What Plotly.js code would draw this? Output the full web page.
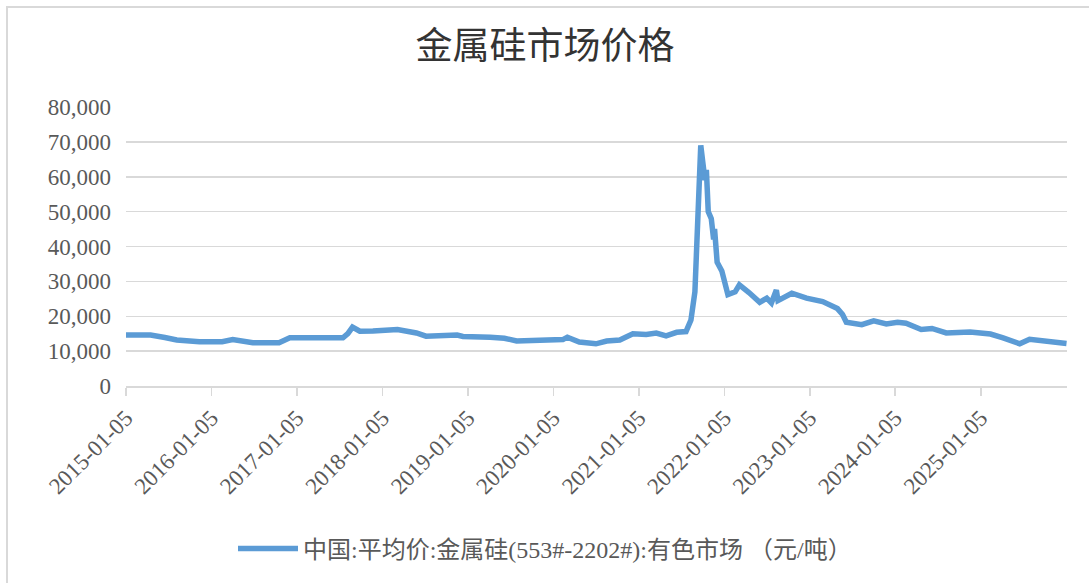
<!DOCTYPE html>
<html>
<head>
<meta charset="utf-8">
<script src="https://cdn.plot.ly/plotly-3.0.1.min.js"></script>
<style>
  html, body { margin: 0; padding: 0; background: #ffffff; }
  #wrap { position: relative; width: 1089px; height: 583px; overflow: hidden; }
  #chart { position: absolute; left: 0; top: 0; width: 1089px; height: 583px; }
  #frame { position: absolute; left: 6px; top: 6px; width: 1200px; height: 700px;
           border-left: 2px solid #d9d9d9; border-top: 2px solid #d9d9d9; pointer-events: none; }
</style>
</head>
<body>
<div id="wrap">
  <div id="chart"></div>
  <div id="frame"></div>
</div>
<script>
// ---- data ----
const chartTitle = "金属硅市场价格";
const seriesName = "中国:平均价:金属硅(553#-2202#):有色市场 （元/吨）";

const dates = [
  "2015-01-05","2015-04-20","2015-06-20","2015-08-10","2015-11-15",
  "2016-02-20","2016-04-05","2016-05-15","2016-06-30","2016-10-20",
  "2016-11-20","2016-12-05","2017-07-20","2017-08-10","2017-08-30",
  "2017-09-30","2017-11-25","2018-03-10","2018-05-30","2018-07-10",
  "2018-11-20","2018-12-15","2019-04-10","2019-06-10","2019-08-01",
  "2019-11-20","2020-02-15","2020-03-05","2020-04-25","2020-07-05",
  "2020-08-20","2020-10-15","2020-12-10","2021-02-05","2021-03-20",
  "2021-05-01","2021-06-15","2021-07-25","2021-08-15","2021-09-01",
  "2021-09-08","2021-09-17","2021-09-26","2021-10-05","2021-10-14",
  "2021-10-20","2021-10-28","2021-11-10","2021-11-20","2021-11-24",
  "2021-12-05","2021-12-25","2022-01-20","2022-02-20","2022-03-10",
  "2022-04-20","2022-06-05","2022-07-05","2022-07-25","2022-08-15",
  "2022-08-22","2022-10-20","2022-12-22","2023-03-01","2023-05-03",
  "2023-05-25","2023-06-10","2023-08-15","2023-10-05","2023-11-28",
  "2024-01-15","2024-02-20","2024-04-25","2024-06-10","2024-08-10",
  "2024-11-20","2025-02-15","2025-04-10","2025-06-20","2025-08-01",
  "2025-10-15","2025-12-20","2026-01-06"
];
const prices = [
  14600,14600,13900,13200,12700,
  12700,13300,13000,12400,12400,
  13500,13800,13800,15000,16900,
  15700,15800,16200,15200,14300,
  14600,14200,14000,13700,12900,
  13000,13300,14000,12600,12100,
  12900,13200,15000,14800,15200,
  14400,15400,15600,18900,27000,
  38000,55000,69000,64000,59000,
  62000,50000,48000,42000,45000,
  35500,33000,26200,27000,29000,
  26800,24000,25200,23800,27500,
  24500,26600,25200,24200,22200,
  20500,18300,17600,18700,17800,
  18300,18000,16200,16500,15200,
  15500,14900,13800,12100,13400,
  13000,12400,12200
];

const tickDates = ["2015-01-05","2016-01-05","2017-01-05","2018-01-05","2019-01-05",
  "2020-01-05","2021-01-05","2022-01-05","2023-01-05","2024-01-05","2025-01-05"];
const yTicks = [0,10000,20000,30000,40000,50000,60000,70000,80000];
const yTickLabels = ["0","10,000","20,000","30,000","40,000","50,000","60,000","70,000","80,000"];

// ---- chart ----
const serif = "'Liberation Serif', 'Times New Roman', 'Noto Sans CJK SC', serif";
const trace = {
  x: dates, y: prices, type: "scatter", mode: "lines", name: seriesName,
  line: { color: "#5B9BD5", width: 5.5, shape: "linear" }
};

const layout = {
  width: 1089, height: 583,
  paper_bgcolor: "rgba(0,0,0,0)", plot_bgcolor: "rgba(0,0,0,0)",
  margin: { l: 126, r: 22, t: 107, b: 197 },
  title: {
    text: chartTitle, x: 545/1089, xref: "container", xanchor: "center",
    y: 1 - 46/583, yref: "container", yanchor: "middle",
    font: { family: "'Noto Sans CJK SC', sans-serif", size: 37, color: "#333333" }
  },
  xaxis: {
    type: "date", range: ["2015-01-05", "2026-01-08"],
    tickvals: tickDates, ticktext: tickDates, tickangle: -45,
    ticks: "outside", ticklen: 8, tickcolor: "#d9d9d9", tickwidth: 1.5,
    showline: true, linecolor: "#d9d9d9", linewidth: 1.5,
    showgrid: false, zeroline: false,
    tickfont: { family: serif, size: 23, color: "#595959" }
  },
  yaxis: {
    range: [0, 80000], tickvals: yTicks, ticktext: yTickLabels,
    showgrid: true, gridcolor: "#d9d9d9", gridwidth: 1.5,
    zeroline: false, showline: false, ticks: "", ticklabelstandoff: 14,
    tickfont: { family: serif, size: 23, color: "#595959" }
  },
  showlegend: true,
  legend: {
    orientation: "h", x: (545 - 126) / 941, xanchor: "center",
    y: (386 - 549) / 279, yanchor: "middle",
    itemwidth: 60,
    font: { family: serif, size: 24, color: "#595959" },
    bgcolor: "rgba(0,0,0,0)"
  }
};

Plotly.newPlot("chart", [trace], layout, { displayModeBar: false, staticPlot: true });
</script>
</body>
</html>
